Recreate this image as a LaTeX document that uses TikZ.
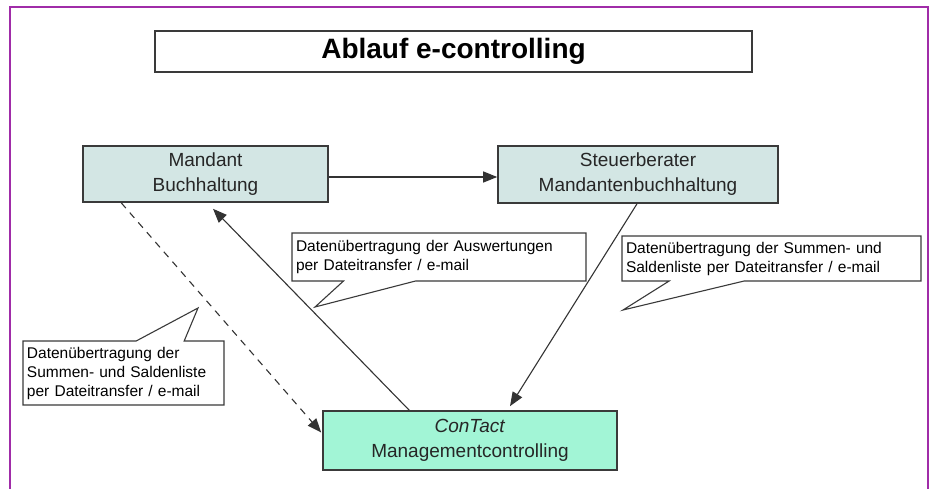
\documentclass[tikz,border=0pt]{standalone}
\usepackage{fontspec}
\setmainfont{Liberation Sans}
\usepackage{tikz}
\usetikzlibrary{arrows.meta,shapes.callouts,calc}
\definecolor{rahmen}{HTML}{A02CA8}
\definecolor{kanzlei}{HTML}{D3E6E4}
\definecolor{contact}{HTML}{A2F5D6}
\definecolor{rand}{HTML}{3A3A3A}
\tikzstyle{titel}=[draw=rand, line width=1.8pt, fill=white, minimum width=597pt,
  minimum height=41pt, inner sep=0pt, font=\fontsize{28}{30}\selectfont\bfseries]
\tikzstyle{stelle}=[draw=rand, line width=1.6pt, fill=kanzlei, text=black!85,
  align=center, inner sep=0pt, font=\fontsize{19}{25}\selectfont]
\tikzstyle{ziel}=[stelle, fill=contact]
\tikzstyle{notiz}=[rectangle callout, draw=rand, line width=1.1pt, fill=white,
  align=left, inner xsep=4pt, inner ysep=0pt, font=\fontsize{15.5}{19}\selectfont]
\tikzstyle{line}=[draw, line width=1.1pt, color=black!80, -{Triangle[length=14pt,width=11pt]}]
\begin{document}
\begin{tikzpicture}[x=1pt,y=-1pt]
  \useasboundingbox (0,0) rectangle (933,489);
  \draw[rahmen, line width=2pt] (10,489) -- (10,7) -- (928,7) -- (928,489);

  % Draw diagram elements
  \path (453.5,51.5) node (titel) [titel] {Ablauf e-controlling};
  \path (205.5,174) node (p1) [stelle, minimum width=245pt, minimum height=56pt] {Mandant\\Buchhaltung};
  \path (638,174.5) node (p2) [stelle, minimum width=280pt, minimum height=57pt] {Steuerberater\\Mandantenbuchhaltung};
  \path (470,440.5) node (p3) [ziel, minimum width=294pt, minimum height=59pt] {\textit{ConTact}\\Managementcontrolling};

  % Draw arrows between elements
  \path [line] ($(p1.east)+(0,3)$) -- ($(p2.west)+(0,2.5)$);
  \path [line] ($(p3.north west)+(87,0)$) -- ($(p1.south)+(7.5,6)$);
  \path [line] ($(p2.south)+(-1,0)$) -- ($(p3.north)+(40,-4)$);
  \path [line, dash pattern=on 7pt off 6pt] ($(p1.south west)+(39,0)$) -- ($(p3.west)+(-1,-8)$);

  % Callouts
  \path (439,257) node (n1) [notiz, minimum width=294pt, minimum height=48pt, text width=286pt,
    callout absolute pointer={(315,307)}, callout pointer width=72pt]
    {Datenübertragung der Auswertungen\\per Dateitransfer / e-mail};
  \path (771.5,258.5) node (n2) [notiz, minimum width=299pt, minimum height=45pt, text width=291pt,
    callout absolute pointer={(623,310)}, callout pointer width=75pt]
    {Datenübertragung der Summen- und\\Saldenliste per Dateitransfer / e-mail};
  \path (123.5,373) node (n3) [notiz, minimum width=201pt, minimum height=64pt, text width=193pt,
    callout absolute pointer={(198,308)}, callout pointer width=48pt]
    {Datenübertragung der\\Summen- und Saldenliste\\per Dateitransfer / e-mail};
\end{tikzpicture}
\end{document}
